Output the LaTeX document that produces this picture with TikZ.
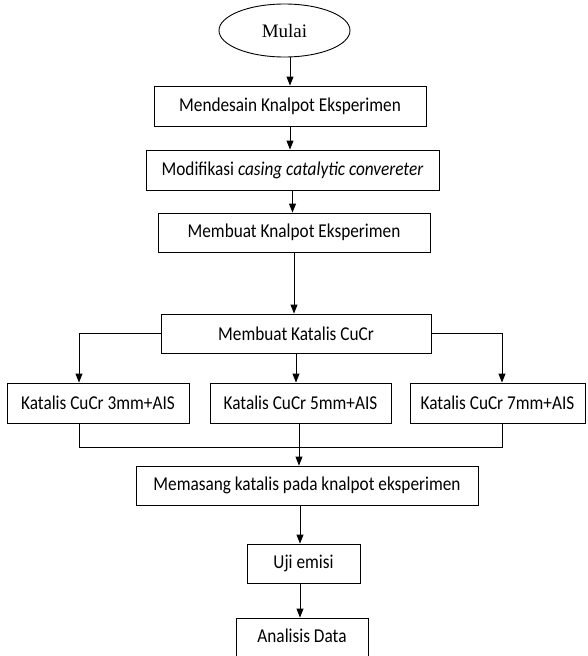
\documentclass[tikz,border=0pt]{standalone}
\usepackage{fontspec}
\setmainfont{Liberation Serif}
\newfontfamily\calfont{Carlito}[FakeStretch=0.88]
\usetikzlibrary{arrows.meta,shapes.geometric}
\tikzset{
  box/.style={draw, line width=0.9pt, rectangle, inner sep=0pt, minimum height=39pt,
    font=\calfont\fontsize{19.6}{22}\selectfont},
  oval/.style={draw, line width=0.9pt, ellipse, inner sep=0pt, minimum width=131pt, minimum height=53pt,
    font=\fontsize{19}{22}\selectfont},
  arr/.style={line width=0.9pt, -{Triangle[length=9pt,width=7pt]}},
  ln/.style={line width=0.9pt}
}
\begin{document}
\begin{tikzpicture}[x=1pt,y=-1pt]
\useasboundingbox (0,0) rectangle (587,656);
\node[oval] (mulai) at (284.5,30.5) {Mulai};
\node[box, minimum width=272pt, minimum height=40pt] (b1) at (290,106) {Mendesain Knalpot Eksperimen};
\node[box, minimum width=293pt, minimum height=40pt] (b2) at (292.5,170) {Modifikasi \textit{casing catalytic convereter}};
\node[box, minimum width=272pt] (b3) at (294,232.5) {Membuat Knalpot Eksperimen};
\node[box, minimum width=270pt] (b4) at (296,333.5) {Membuat Katalis CuCr};
\node[box, minimum width=182pt, minimum height=40pt] (b5) at (98,403) {Katalis CuCr 3mm+AIS};
\node[box, minimum width=181pt, minimum height=40pt] (b6) at (300.5,403) {Katalis CuCr 5mm+AIS};
\node[box, minimum width=175pt, minimum height=40pt] (b7) at (497.5,403) {Katalis CuCr 7mm+AIS};
\node[box, minimum width=342pt] (b8) at (307,485.5) {Memasang katalis pada knalpot eksperimen};
\node[box, minimum width=113pt] (b9) at (303.5,563.5) {Uji emisi};
\node[box, minimum width=132pt] (b10) at (302,637.5) {};
\node[font=\calfont\fontsize{19.6}{22}\selectfont] (t10) at (302,636) {Analisis Data};
\coordinate (c5) at (79,0);
\coordinate (c7) at (502,0);
\coordinate (m) at (299,447);
\coordinate (c9) at (300,0);
\draw[arr] (b1.north |- mulai.south) -- (b1.north);
\draw[arr] (b1.south) -- (b1.south |- b2.north);
\draw[arr] (b2.south) -- (b2.south |- b3.north);
\draw[arr] (b3.south) -- (b3.south |- b4.north);
\draw[arr] (b4.south) -- (b4.south |- b6.north);
\draw[arr] (b4.west) -| (c5 |- b5.north);
\draw[arr] (b4.east) -| (c7 |- b7.north);
\draw[ln] (c5 |- b5.south) |- (c7 |- m) -- (c7 |- b7.south);
\draw[arr] (m |- b6.south) -- (m |- b8.north);
\draw[arr] (c9 |- b8.south) -- (c9 |- b9.north);
\draw[arr] (c9 |- b9.south) -- (c9 |- b10.north);
\end{tikzpicture}
\end{document}
